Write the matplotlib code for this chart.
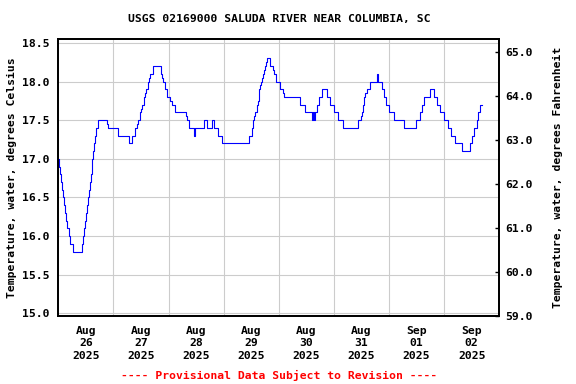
import pandas as pd
import matplotlib.pyplot as plt
import matplotlib.dates as mdates
from matplotlib.ticker import FixedLocator, FormatStrFormatter

# ==========================================================
# DATA  (hours after 2025-08-26 00:00, step values in deg C)
# ==========================================================

START = pd.Timestamp("2025-08-26 00:00")

hours = [
    0.00, 0.44, 0.87, 1.31, 1.74, 2.18, 2.61, 3.05, 3.48, 3.92,
    4.79, 5.22, 6.53, 10.45, 10.89, 11.32, 11.76, 12.19, 12.63, 13.06,
    13.50, 13.93, 14.37, 14.67, 14.80, 14.98, 15.41, 15.85, 16.55, 17.42,
    21.33, 21.77, 26.12, 30.91, 32.22, 33.40, 34.40, 34.83, 35.57, 36.01,
    36.57, 37.45, 37.75, 38.32, 39.06, 39.49, 40.06, 41.36, 44.59, 45.02,
    45.46, 46.33, 47.46, 48.63, 49.37, 50.94, 55.60, 56.17, 56.78, 57.04,
    59.22, 59.65, 63.57, 64.61, 66.92, 67.79, 69.67, 71.41, 83.16, 84.21,
    84.90, 85.34, 85.78, 86.39, 86.82, 87.26, 87.69, 88.13, 88.56, 89.00,
    89.43, 89.87, 90.30, 90.74, 92.17, 93.61, 94.05, 94.79, 96.53, 97.97,
    98.41, 105.24, 107.55, 110.34, 110.77, 111.21, 111.64, 112.51, 113.51, 114.95,
    116.99, 118.30, 120.04, 121.91, 124.09, 130.62, 131.67, 132.23, 132.54, 133.10,
    133.67, 134.28, 135.90, 138.58, 139.01, 140.81, 141.81, 142.68, 144.12, 146.30,
    150.39, 155.75, 157.49, 158.49, 159.36, 161.97, 163.71, 164.76, 166.20, 167.94,
    169.46, 170.85, 172.86, 175.91, 179.26, 180.00, 181.00, 182.44, 182.88, 183.61,
    184.35,
]

temp_c = [
    17.0, 16.9, 16.8, 16.7, 16.6, 16.5, 16.4, 16.3, 16.2, 16.1,
    16.0, 15.9, 15.8, 15.9, 16.0, 16.1, 16.2, 16.3, 16.4, 16.5,
    16.6, 16.7, 16.8, 16.9, 17.0, 17.1, 17.2, 17.3, 17.4, 17.5,
    17.45, 17.4, 17.3, 17.2, 17.3, 17.4, 17.45, 17.5, 17.6, 17.65,
    17.7, 17.8, 17.85, 17.9, 18.0, 18.05, 18.1, 18.2, 18.1, 18.05,
    18.0, 17.9, 17.8, 17.75, 17.7, 17.6, 17.55, 17.5, 17.45, 17.4,
    17.3, 17.4, 17.5, 17.4, 17.5, 17.4, 17.3, 17.2, 17.3, 17.4,
    17.5, 17.55, 17.6, 17.7, 17.75, 17.9, 17.95, 18.0, 18.05, 18.1,
    18.15, 18.2, 18.25, 18.3, 18.2, 18.15, 18.1, 18.0, 17.9, 17.85,
    17.8, 17.7, 17.6, 17.5, 17.6, 17.5, 17.6, 17.7, 17.8, 17.9,
    17.8, 17.7, 17.6, 17.5, 17.4, 17.5, 17.55, 17.6, 17.7, 17.8,
    17.85, 17.9, 18.0, 18.1, 18.0, 17.9, 17.8, 17.7, 17.6, 17.5,
    17.4, 17.5, 17.6, 17.7, 17.8, 17.9, 17.8, 17.7, 17.6, 17.5,
    17.4, 17.3, 17.2, 17.1, 17.2, 17.3, 17.4, 17.5, 17.6, 17.7,
    17.7,
]

celsius_ticks = [15.0, 15.5, 16.0, 16.5, 17.0, 17.5, 18.0, 18.5]
fahrenheit_ticks = [59.0, 60.0, 61.0, 62.0, 63.0, 64.0, 65.0]

day_labels = [
    "Aug\n26\n2025", "Aug\n27\n2025", "Aug\n28\n2025", "Aug\n29\n2025",
    "Aug\n30\n2025", "Aug\n31\n2025", "Sep\n01\n2025", "Sep\n02\n2025",
]

TITLE = "USGS 02169000 SALUDA RIVER NEAR COLUMBIA, SC"
FOOTER = "---- Provisional Data Subject to Revision ----"

# ==========================================================
# FIGURE
# ==========================================================

plt.rcParams["font.family"] = "DejaVu Sans Mono"
plt.rcParams["font.weight"] = "bold"
FS = 8.2

times = START + pd.to_timedelta(hours, unit="h")

fig = plt.figure(figsize=(5.76, 3.84), dpi=100)
ax = fig.add_axes([0.1012, 0.1771, 0.7656, 0.7206])

ax.plot(times, temp_c, color="#0000ff", lw=0.8, drawstyle="steps-post", zorder=3)

ax.set_xlim(START, START + pd.Timedelta(days=8))
ax.set_ylim(14.965, 18.548)

# labels at noon, gridlines at midnight
noons = [START + pd.Timedelta(hours=12 + 24 * i) for i in range(len(day_labels))]
mids = [START + pd.Timedelta(days=i) for i in range(1, 8)]
ax.xaxis.set_major_locator(FixedLocator(mdates.date2num(noons)))
ax.xaxis.set_minor_locator(FixedLocator(mdates.date2num(mids)))
ax.set_xticklabels(day_labels, fontsize=FS, fontweight="bold", linespacing=1.3)
ax.tick_params(axis="x", which="both", length=0, pad=7)

ax.set_yticks(celsius_ticks)
ax.yaxis.set_major_formatter(FormatStrFormatter("%.1f"))
ax.tick_params(axis="y", length=0, pad=6, labelsize=FS)

ax.grid(which="minor", axis="x", color="#cccccc", lw=0.8)
ax.grid(which="major", axis="y", color="#cccccc", lw=0.8)
ax.grid(which="major", axis="x", visible=False)

for s in ax.spines.values():
    s.set_linewidth(1.3)

ax.set_ylabel("Temperature, water, degrees Celsius", fontsize=FS,
              fontweight="bold", labelpad=4)

# ==========================================================
# FAHRENHEIT AXIS
# ==========================================================

ax2 = ax.twinx()
ax2.set_ylim(59.0, 65.3)
ax2.set_yticks(fahrenheit_ticks)
ax2.yaxis.set_major_formatter(FormatStrFormatter("%.1f"))
ax2.tick_params(axis="y", direction="in", length=3, width=1, pad=4, labelsize=FS)
ax2.set_ylabel("Temperature, water, degrees Fahrenheit", fontsize=FS,
               fontweight="bold", labelpad=15)
for s in ax2.spines.values():
    s.set_linewidth(1.3)

# ==========================================================
# TEXT
# ==========================================================

fig.text(0.484, 0.951, TITLE, ha="center", va="center", fontsize=FS,
         fontweight="bold")
fig.text(0.484, 0.023, FOOTER, ha="center", va="center", fontsize=FS,
         fontweight="bold", color="#ff0000")

plt.savefig("out.png", dpi=100)
plt.close()
